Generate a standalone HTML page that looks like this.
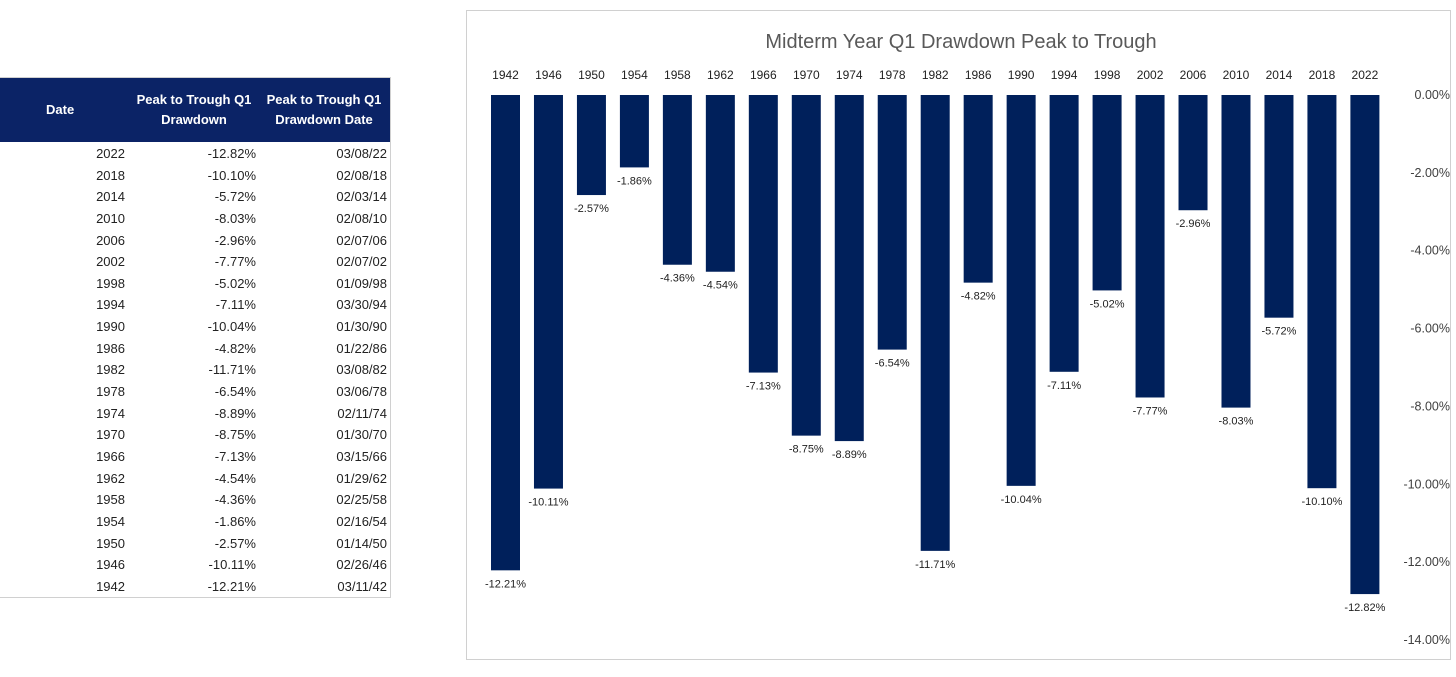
<!DOCTYPE html>
<html><head><meta charset="utf-8"><style>
body{margin:0;width:1456px;height:677px;background:#fff;position:relative;font-family:"Liberation Sans",sans-serif;overflow:hidden}
#tbl{position:absolute;left:0;top:77px;width:390px;border-top:1px solid #d0d0d0;border-right:1px solid #d0d0d0;border-bottom:1px solid #d0d0d0}
#hdr{height:64px;background:#0b2366;color:#fff;font-weight:bold;font-size:13px;position:relative}
#hdr div{position:absolute;text-align:center;line-height:20px}
.row{height:21.65px;position:relative;font-size:13px;color:#222}
.row span{position:absolute;top:3px}
#chart{position:absolute;left:466px;top:10px;width:985px;height:650px;border:1px solid #d0d0d0;box-sizing:border-box}
</style></head><body>
<div id="tbl">
 <div id="hdr">
  <div style="left:46px;top:22px">Date</div>
  <div style="left:128px;top:12px;width:132px">Peak to Trough Q1<br>Drawdown</div>
  <div style="left:258px;top:12px;width:132px">Peak to Trough Q1<br>Drawdown Date</div>
 </div>
 <div id="rows" style="padding-top:1px"></div>
</div>
<svg id="chart" width="985" height="650"></svg>
<script>
const years=[1942,1946,1950,1954,1958,1962,1966,1970,1974,1978,1982,1986,1990,1994,1998,2002,2006,2010,2014,2018,2022];
const drawdowns=[-12.21,-10.11,-2.57,-1.86,-4.36,-4.54,-7.13,-8.75,-8.89,-6.54,-11.71,-4.82,-10.04,-7.11,-5.02,-7.77,-2.96,-8.03,-5.72,-10.10,-12.82];
const dates=["03/11/42","02/26/46","01/14/50","02/16/54","02/25/58","01/29/62","03/15/66","01/30/70","02/11/74","03/06/78","03/08/82","01/22/86","01/30/90","03/30/94","01/09/98","02/07/02","02/07/06","02/08/10","02/03/14","02/08/18","03/08/22"];
const ticks=[0,-2,-4,-6,-8,-10,-12,-14];

const rows=document.getElementById('rows');
for(let i=years.length-1;i>=0;i--){
 const r=document.createElement('div');r.className='row';
 
 
 r.innerHTML='<span style="right:265px">'+years[i]+'</span><span style="right:134px">'+drawdowns[i].toFixed(2)+'%</span><span style="right:3px">'+dates[i]+'</span>';
 rows.appendChild(r);
}
const svg=document.getElementById('chart');const NS='http://www.w3.org/2000/svg';
const ox=466,oy=10;
const y=v=>94-oy+(-v)*38.93;
const x=i=>504.5-ox+i*42.97;
function t(tx,ty,s,fs,col,anchor,name){const e=document.createElementNS(NS,'text');e.setAttribute('x',tx);e.setAttribute('y',ty);e.setAttribute('font-size',fs);e.setAttribute('fill',col);e.setAttribute('text-anchor',anchor);e.setAttribute('font-family','Liberation Sans, sans-serif');e.textContent=s;


svg.appendChild(e);}
t(960-ox,47-oy,'Midterm Year Q1 Drawdown Peak to Trough',20,'#595959','middle','chart-title');
ticks.forEach(v=>t(1449-ox,y(v)+4,v.toFixed(2)+'%',12.5,'#404040','end','y-tick-label'));
years.forEach((yr,i)=>{
 t(x(i),78-oy,String(yr),12,'#222','middle','x-category-label');
 const b=document.createElementNS(NS,'rect');
 b.setAttribute('x',x(i)-14.5);b.setAttribute('y',y(0));b.setAttribute('width',29);b.setAttribute('height',y(drawdowns[i])-y(0));b.setAttribute('fill','#00205b');
 
 
 svg.appendChild(b);
 t(x(i),y(drawdowns[i])+17,drawdowns[i].toFixed(2)+'%',11,'#222','middle','data-label');
});
</script>
</body></html>
